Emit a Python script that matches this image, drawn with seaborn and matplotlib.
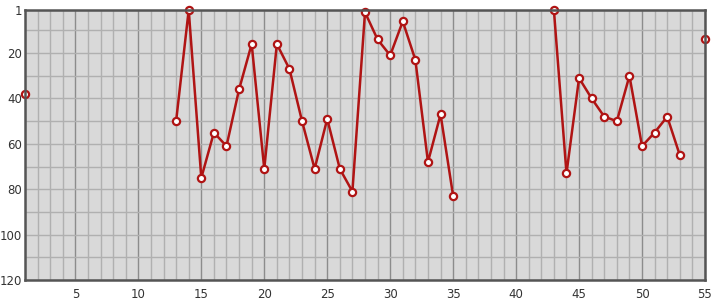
import numpy as np
import pandas as pd
import matplotlib
matplotlib.use("Agg")
import matplotlib.pyplot as plt
import seaborn as sns

x_vals = [1, 13, 14, 15, 16, 17, 18, 19, 20, 21, 22, 23, 24, 25, 26, 27, 28, 29, 30,
          31, 32, 33, 34, 35, 43, 44, 45, 46, 47, 48, 49, 50, 51, 52, 53, 55]
y_vals = [38, 50, 1, 75, 55, 61, 36, 16, 71, 16, 27, 50, 71, 49, 71, 81, 2, 14, 21,
          6, 23, 68, 47, 83, 1, 73, 31, 40, 48, 50, 30, 61, 55, 48, 65, 14]
x_ticks = [5, 10, 15, 20, 25, 30, 35, 40, 45, 50, 55]
y_ticks = [1, 20, 40, 60, 80, 100, 120]

df = pd.DataFrame({"x": x_vals, "y": y_vals})
df["seg"] = (df["x"].diff() != 1).cumsum()

sns.set_style("white")
fig = plt.figure(figsize=(7.15, 3.0), dpi=100)
ax = fig.add_axes([25/715, 20/300, 680/715, 270/300])
ax.set_facecolor("#d9d9d9")

# grid
for xv in range(1, 56):
    ax.axvline(xv, color="#8c8c8c" if xv % 5 == 0 else "#b0b0b0", lw=1, zorder=0)
for yv in [1] + list(range(10, 121, 10)):
    ax.axhline(yv, color="#b0b0b0", lw=1, zorder=0)

sns.lineplot(data=df, x="x", y="y", units="seg", estimator=None, ax=ax,
             color="#b01414", lw=1.8, marker="o", markersize=5.2,
             markerfacecolor="white", markeredgecolor="#b01414",
             markeredgewidth=1.6, zorder=3, clip_on=False)

ax.set_xlim(1, 55)
ax.set_ylim(120, 1)
ax.set_xticks(x_ticks)
ax.set_yticks(y_ticks)
ax.set_xlabel("")
ax.set_ylabel("")
ax.tick_params(axis="x", length=0, labelsize=8.5, labelcolor="#333333", pad=6)
ax.tick_params(axis="y", length=0, labelsize=8.5, labelcolor="#333333", pad=2)
for s in ax.spines.values():
    s.set_visible(True)
    s.set_color("#555555")
    s.set_linewidth(1.8)
    s.set_zorder(4)
fig.savefig("out.png", dpi=100)
